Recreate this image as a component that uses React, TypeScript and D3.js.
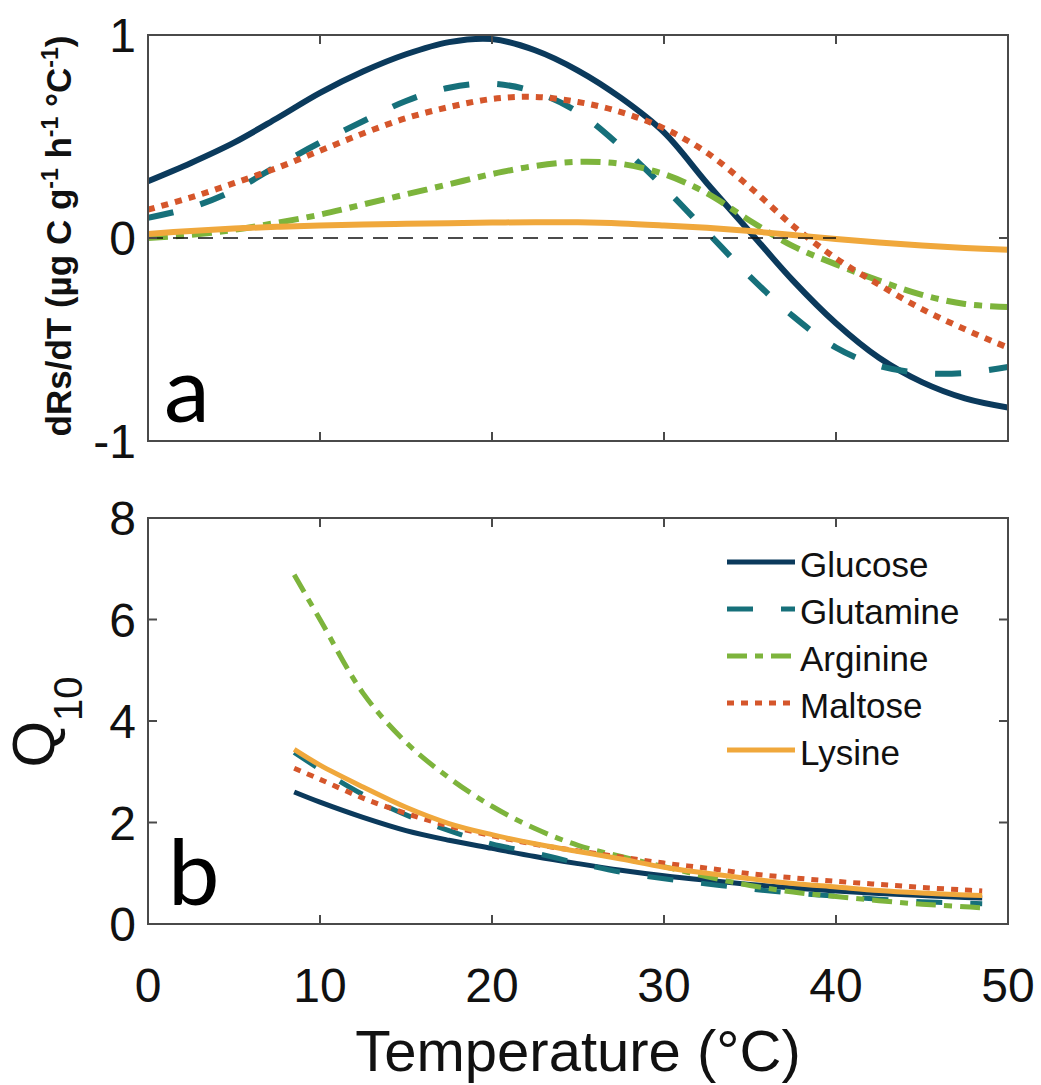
import React from 'react';
import * as d3 from 'd3';

// ---------- data ----------
const seriesNames = ['Glucose', 'Glutamine', 'Arginine', 'Maltose', 'Lysine'];

// panel a: dRs/dT
const tempA = [0, 2.5, 5, 7.5, 10, 12.5, 15, 17.5, 20, 22.5, 25, 27.5, 30, 32.5, 35, 37.5, 40, 42.5, 45, 47.5, 50];
const glucoseA = [0.28, 0.37, 0.47, 0.59, 0.715, 0.82, 0.905, 0.965, 0.98, 0.925, 0.825, 0.69, 0.52, 0.27, 0.03, -0.21, -0.42, -0.59, -0.71, -0.79, -0.835];
const glutamineA = [0.1, 0.15, 0.235, 0.355, 0.47, 0.575, 0.675, 0.74, 0.76, 0.72, 0.62, 0.45, 0.25, 0.03, -0.19, -0.385, -0.54, -0.63, -0.665, -0.665, -0.635];
const arginineA = [0.0, 0.015, 0.04, 0.075, 0.115, 0.165, 0.215, 0.265, 0.315, 0.355, 0.375, 0.365, 0.315, 0.22, 0.085, -0.04, -0.13, -0.21, -0.28, -0.325, -0.34];
const maltoseA = [0.14, 0.2, 0.27, 0.345, 0.43, 0.515, 0.59, 0.645, 0.685, 0.695, 0.67, 0.62, 0.54, 0.42, 0.25, 0.06, -0.1, -0.23, -0.35, -0.45, -0.54];
const lysineA = [0.02, 0.035, 0.047, 0.055, 0.062, 0.066, 0.07, 0.073, 0.076, 0.078, 0.077, 0.072, 0.062, 0.05, 0.034, 0.015, -0.005, -0.022, -0.037, -0.049, -0.058];

// panel b: Q10
const tempB = [8.5, 10, 12.5, 15, 17.5, 20, 22.5, 25, 27.5, 30, 32.5, 35, 37.5, 40, 42.5, 45, 47.5, 48.5];
const glucoseB = [2.6, 2.4, 2.1, 1.84, 1.65, 1.49, 1.33, 1.19, 1.06, 0.95, 0.86, 0.78, 0.71, 0.65, 0.6, 0.56, 0.52, 0.51];
const glutamineB = [3.38, 3.05, 2.55, 2.15, 1.84, 1.58, 1.4, 1.2, 1.02, 0.89, 0.79, 0.69, 0.61, 0.55, 0.49, 0.44, 0.41, 0.4];
const arginineB = [6.88, 6.0, 4.55, 3.58, 2.88, 2.32, 1.88, 1.55, 1.33, 1.13, 0.93, 0.76, 0.63, 0.54, 0.46, 0.39, 0.34, 0.32];
const maltoseB = [3.07, 2.85, 2.48, 2.18, 1.93, 1.74, 1.57, 1.44, 1.32, 1.2, 1.1, 0.99, 0.91, 0.84, 0.78, 0.72, 0.67, 0.65];
const lysineB = [3.44, 3.13, 2.7, 2.3, 1.98, 1.76, 1.58, 1.43, 1.28, 1.12, 1.0, 0.89, 0.8, 0.73, 0.66, 0.61, 0.57, 0.56];

const xTickValues = [0, 10, 20, 30, 40, 50];
const yTicksA = [-1, 0, 1];
const yTicksB = [0, 2, 4, 6, 8];
const zeroLineRange = [0, 40];

// ---------- styles ----------
const styleByName: Record<string, { color: string; dash: string | null }> = {
  Glucose: { color: '#0b3a5c', dash: null },
  Glutamine: { color: '#16707a', dash: '26 28' },
  Arginine: { color: '#7db43c', dash: '20 8 8 8' },
  Maltose: { color: '#d5562b', dash: '7 7' },
  Lysine: { color: '#f0a83c', dash: null },
};

const W = 1041;
const H = 1085;
const L = 148, R = 1008;
const A_T = 35, A_B = 441;
const B_T = 518, B_B = 924;
const FONT = '"Liberation Sans", Arial, Helvetica, sans-serif';
const AXC = '#4a4a4a';

export default function App() {
  const x = d3.scaleLinear().domain([0, 50]).range([L, R]);
  const yA = d3.scaleLinear().domain([-1, 1]).range([A_B, A_T]);
  const yB = d3.scaleLinear().domain([0, 8]).range([B_B, B_T]);

  const valsA: Record<string, number[]> = {
    Glucose: glucoseA, Glutamine: glutamineA, Arginine: arginineA, Maltose: maltoseA, Lysine: lysineA,
  };
  const valsB: Record<string, number[]> = {
    Glucose: glucoseB, Glutamine: glutamineB, Arginine: arginineB, Maltose: maltoseB, Lysine: lysineB,
  };

  const lineA = d3.line<number>().x((_, i) => x(tempA[i])).y((d) => yA(d)).curve(d3.curveCatmullRom.alpha(0.5));
  const lineB = d3.line<number>().x((_, i) => x(tempB[i])).y((d) => yB(d)).curve(d3.curveCatmullRom.alpha(0.5));

  const tickLen = 9;
  const innerX = xTickValues.filter((t) => t > 0 && t < 50);

  const frame = (top: number, bottom: number, yScale: any, yInner: number[]) => (
    <g>
      <rect x={L} y={top} width={R - L} height={bottom - top} fill="none" stroke={AXC} strokeWidth={2} />
      {innerX.map((t) => (
        <g key={'xt' + t}>
          <line x1={x(t)} x2={x(t)} y1={bottom} y2={bottom - tickLen} stroke={AXC} strokeWidth={2} />
          <line x1={x(t)} x2={x(t)} y1={top} y2={top + tickLen} stroke={AXC} strokeWidth={2} />
        </g>
      ))}
      {yInner.map((v) => (
        <g key={'yt' + v}>
          <line x1={L} x2={L + tickLen} y1={yScale(v)} y2={yScale(v)} stroke={AXC} strokeWidth={2} />
          <line x1={R} x2={R - tickLen} y1={yScale(v)} y2={yScale(v)} stroke={AXC} strokeWidth={2} />
        </g>
      ))}
    </g>
  );

  return (
    <svg width={W} height={H} style={{ position: 'absolute', left: 0, top: 0, background: '#fff' }} fontFamily={FONT}>
      <defs>
        <clipPath id="clipA"><rect x={L} y={A_T} width={R - L} height={A_B - A_T} /></clipPath>
        <clipPath id="clipB"><rect x={L} y={B_T} width={R - L} height={B_B - B_T} /></clipPath>
      </defs>

      {/* panel a */}
      <g clipPath="url(#clipA)">
        {seriesNames.map((n) => (
          <path key={'a' + n} d={lineA(valsA[n]) || ''} fill="none" stroke={styleByName[n].color}
            strokeWidth={6} strokeDasharray={styleByName[n].dash || undefined} />
        ))}
        <line x1={x(zeroLineRange[0])} x2={x(zeroLineRange[1])} y1={yA(0)} y2={yA(0)} stroke="#111" strokeWidth={1.6} strokeDasharray="15 10" />
      </g>
      {frame(A_T, A_B, yA, [0])}
      {yTicksA.map((v) => (
        <text key={'yla' + v} x={136} y={yA(v)} dy="0.36em" textAnchor="end" fontSize={48} fill="#111">
          {v < 0 ? '-' + Math.abs(v) : String(v)}
        </text>
      ))}
      <text transform={`translate(71,${(A_T + A_B) / 2 - 2}) rotate(-90)`} textAnchor="middle" fontSize={35} fontWeight="bold" fill="#111">
        dRs/dT (µg C g<tspan dy={-13} fontSize={23}>-1</tspan><tspan dy={13}> h</tspan><tspan dy={-13} fontSize={23}>-1</tspan><tspan dy={13}> °C</tspan><tspan dy={-13} fontSize={23}>-1</tspan><tspan dy={13}>)</tspan>
      </text>
      <text x={164} y={422} fontSize={92} fontFamily="Lato, 'Open Sans', sans-serif" fill="#000">a</text>

      {/* panel b */}
      <g clipPath="url(#clipB)">
        {seriesNames.map((n) => (
          <path key={'b' + n} d={lineB(valsB[n]) || ''} fill="none" stroke={styleByName[n].color}
            strokeWidth={5} strokeDasharray={styleByName[n].dash || undefined} />
        ))}
      </g>
      {frame(B_T, B_B, yB, [2, 4, 6])}
      {yTicksB.map((v) => (
        <text key={'ylb' + v} x={136} y={yB(v)} dy="0.36em" textAnchor="end" fontSize={48} fill="#111">{v}</text>
      ))}
      {xTickValues.map((t) => (
        <text key={'xl' + t} x={x(t)} y={1002} textAnchor="middle" fontSize={48} fill="#111">{t}</text>
      ))}
      <text x={(L + R) / 2} y={1071} textAnchor="middle" fontSize={58} fill="#111">Temperature (°C)</text>
      <text transform={`translate(54,722) rotate(-90)`} textAnchor="middle" fontSize={60} fill="#111">
        Q<tspan fontSize={40} dy={28}>10</tspan>
      </text>
      <text x={168} y={905} fontSize={92} fontFamily="Lato, 'Open Sans', sans-serif" fill="#000">b</text>

      {/* legend */}
      {seriesNames.map((n, i) => {
        const yy = 562 + i * 47;
        return (
          <g key={'lg' + n}>
            <line x1={727} x2={795} y1={yy} y2={yy} stroke={styleByName[n].color} strokeWidth={5}
              strokeDasharray={styleByName[n].dash || undefined} />
            <text x={800} y={yy + 15} fontSize={35} fill="#111">{n}</text>
          </g>
        );
      })}
    </svg>
  );
}
